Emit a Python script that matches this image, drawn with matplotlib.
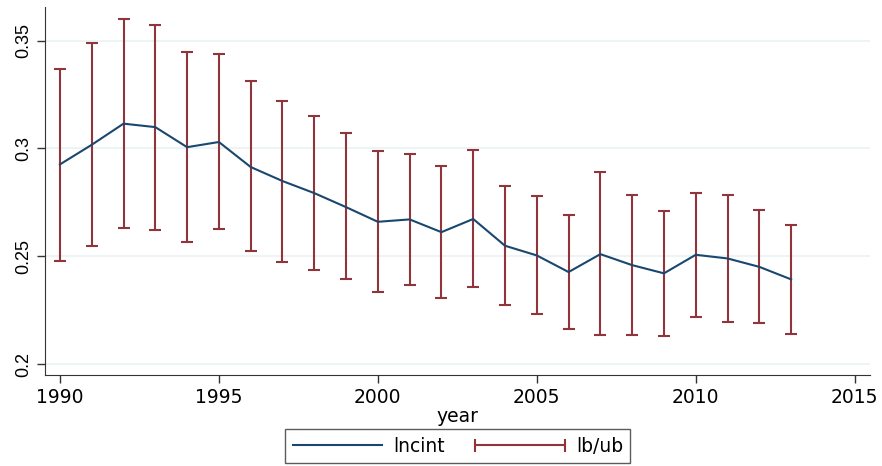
import matplotlib
matplotlib.use("Agg")
import matplotlib.pyplot as plt
from matplotlib.lines import Line2D
from matplotlib.legend_handler import HandlerBase

years = list(range(1990, 2014))
lncint = [0.2926, 0.3017, 0.3115, 0.3099, 0.3006, 0.3030, 0.2914, 0.2849, 0.2793, 0.2728,
          0.2660, 0.2671, 0.2612, 0.2673, 0.2549, 0.2504, 0.2427, 0.2510, 0.2459, 0.2421,
          0.2507, 0.2490, 0.2451, 0.2393]
ub = [0.3368, 0.3489, 0.3600, 0.3574, 0.3447, 0.3438, 0.3313, 0.3220, 0.3150, 0.3071,
      0.2988, 0.2975, 0.2918, 0.2993, 0.2826, 0.2779, 0.2690, 0.2891, 0.2782, 0.2711,
      0.2793, 0.2784, 0.2714, 0.2646]
lb = [0.2479, 0.2546, 0.2631, 0.2623, 0.2567, 0.2626, 0.2524, 0.2473, 0.2436, 0.2394,
      0.2334, 0.2366, 0.2306, 0.2356, 0.2275, 0.2232, 0.2161, 0.2133, 0.2133, 0.2130,
      0.2218, 0.2196, 0.2192, 0.2138]
xticks = [1990, 1995, 2000, 2005, 2010, 2015]
yticks = [0.2, 0.25, 0.3, 0.35]
yticklabels = ["0.2", "0.25", "0.3", "0.35"]

blue = "#1a476f"
red = "#90353b"

plt.rcParams['font.family'] = ['DejaVu Sans']


class CapHandler(HandlerBase):
    def create_artists(self, legend, orig_handle, xdescent, ydescent, width, height, fontsize, trans):
        y = height / 2 - ydescent
        x0, x1 = -xdescent, width - xdescent
        h = 4.0
        artists = [
            Line2D([x0, x1], [y, y], color=red, lw=1.5),
            Line2D([x0, x0], [y - h, y + h], color=red, lw=1.5),
            Line2D([x1, x1], [y - h, y + h], color=red, lw=1.5),
        ]
        for a in artists:
            a.set_transform(trans)
        return artists


fig = plt.figure(figsize=(8.82, 4.66), dpi=100)
ax = fig.add_axes([0.051, 0.195, 0.935, 0.79])

for y in yticks:
    ax.axhline(y, color="#eaf2f3", lw=1.2, zorder=0)

mid = [(u + l) / 2 for u, l in zip(ub, lb)]
err = [[m - l for m, l in zip(mid, lb)], [u - m for u, m in zip(ub, mid)]]
ax.errorbar(years, mid, yerr=err, fmt='none', ecolor=red, elinewidth=1.5,
            capsize=4.5, capthick=1.5, zorder=2)
ax.plot(years, lncint, color=blue, lw=1.5, zorder=3)

ax.set_xlim(1989.53, 2015.47)
ax.set_ylim(0.1949, 0.3656)
ax.set_xticks(xticks)
ax.set_xticklabels([str(x) for x in xticks], fontsize=13.5)
ax.set_yticks(yticks)
ax.set_yticklabels(yticklabels, fontsize=13, rotation=90, va='center',
                   family=['Liberation Sans', 'DejaVu Sans'])
ax.tick_params(axis='both', direction='out', length=6, width=1, color="#333333")
for s in ['top', 'right']:
    ax.spines[s].set_visible(False)
for s in ['left', 'bottom']:
    ax.spines[s].set_color("#333333")
ax.set_xlabel("year", fontsize=13.5, labelpad=0)

blue_handle = Line2D([0], [0], color=blue, lw=1.5)
red_handle = Line2D([0], [0], color=red, lw=1.5)
leg = fig.legend([blue_handle, red_handle], ["lncint", "lb/ub"], loc='center',
                 bbox_to_anchor=(0.519, 0.042), ncol=2, fontsize=13.5, frameon=True,
                 fancybox=False, handlelength=4.75, handletextpad=0.6,
                 columnspacing=1.65, borderpad=0.4, edgecolor="#333333",
                 handler_map={red_handle: CapHandler()})
leg.get_frame().set_linewidth(1.0)

fig.savefig("out.png", dpi=100)
